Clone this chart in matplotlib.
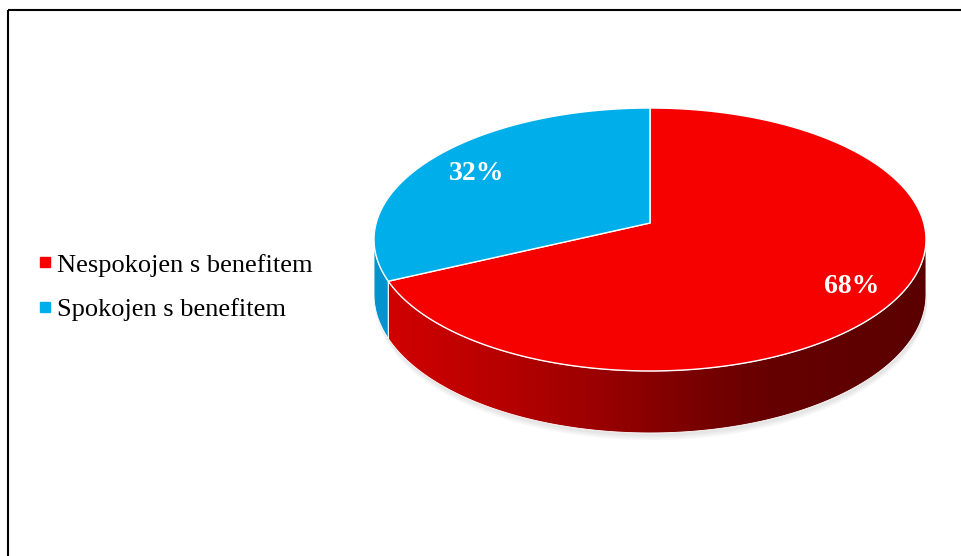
import numpy as np
import matplotlib
matplotlib.use('Agg')
import matplotlib.pyplot as plt
from matplotlib.patches import Polygon, Rectangle
from matplotlib.lines import Line2D
from matplotlib.colors import LinearSegmentedColormap

plt.rcParams['font.family'] = ['Liberation Serif', 'DejaVu Serif']

# podaci
kategorije = ['Nespokojen s benefitem', 'Spokojen s benefitem']
udio = [68, 32]
oznake = ['68%', '32%']
boje_vrh = ['#f70000', '#00aeea']

# geometrija 3D pite (pikseli slike), jednostavna perspektiva
cx, cy = 650.0, 223.0      # sredina gornje plohe
A, B = 273.8, 129.4        # poluosi
k = 0.1255                 # perspektiva (dalje = manje)
H = 54.2                   # debljina pite


def proj(phi, r=1.0, dub=0.0):
    u = r * np.cos(phi)
    v = r * np.sin(phi)
    w = 1 + k * v
    return cx + A * u / w, cy - B * v / w + H * dub / w


fig = plt.figure(figsize=(9.62, 5.56), dpi=100)
ax = fig.add_axes([0, 0, 1, 1])
ax.set_xlim(0, 962)
ax.set_ylim(556, 0)
ax.axis('off')

# okvir (samo lijevi i gornji rub su vidljivi)
ax.add_patch(Rectangle((8, 9.5), 2000, 2000, fill=False, ec='black', lw=1.5))

# kutevi kriski, od 12 sati u smjeru kazaljke
ukupno = sum(udio)
granice = [np.pi / 2]
for u in udio:
    granice.append(granice[-1] - 2 * np.pi * u / ukupno)

# sjena ispod pite
t = np.linspace(0, 2 * np.pi, 300)
for s in [7, 5, 3]:
    sx, sy = proj(t, 1.0, 1.0)
    ax.add_patch(Polygon(np.c_[sx + 1, sy + s], closed=True, fc='#808080',
                         ec='none', alpha=0.07, zorder=1))

# bocna strana: vidljivi prednji dio
kr = np.arcsin(k)
prednji = (-np.pi + kr, -kr)
xs0, xs1 = cx - A / np.sqrt(1 - k * k), cx + A / np.sqrt(1 - k * k)
gradijenti = [
    [(0.0, '#d40000'), (0.25, '#b40000'), (0.45, '#920000'),
     (0.6, '#760000'), (0.72, '#660000'), (1.0, '#5a0000')],
    [(0.0, '#0094cf'), (1.0, '#006a96')],
]
for i in range(len(udio)):
    lo, hi = sorted((granice[i], granice[i + 1]))
    for pomak in (0, -2 * np.pi, 2 * np.pi):
        l, h = max(lo + pomak, prednji[0]), min(hi + pomak, prednji[1])
        if h <= l:
            continue
        ph = np.linspace(h, l, 200)
        tx, ty = proj(ph, 1.0, 0.0)
        bx, by = proj(ph[::-1], 1.0, 1.0)
        poly = Polygon(np.c_[np.r_[tx, bx], np.r_[ty, by]], closed=True,
                       fc='none', ec='white', lw=0.6, zorder=3)
        ax.add_patch(poly)
        cmap = LinearSegmentedColormap.from_list('bok%d' % i, gradijenti[i])
        grad = np.linspace(0, 1, 256).reshape(1, -1)
        im = ax.imshow(grad, cmap=cmap, aspect='auto',
                       extent=(xs0, xs1, cy + B / (1 - k) + H + 10, cy - 20),
                       zorder=2, interpolation='bilinear')
        im.set_clip_path(poly)

# gornja ploha
for i in range(len(udio)):
    ph = np.linspace(granice[i], granice[i + 1], 300)
    px, py = proj(ph)
    ax.add_patch(Polygon(np.c_[np.r_[cx, px], np.r_[cy, py]], closed=True,
                         fc=boje_vrh[i], ec='white', lw=1.0, zorder=4,
                         joinstyle='round'))

# oznake podataka
for i in range(len(udio)):
    sred = (granice[i] + granice[i + 1]) / 2
    lx, ly = proj(sred, 0.81)
    ax.text(lx + 4, ly + 4, oznake[i], color='white', fontsize=20,
            fontweight='bold', ha='center', va='center', zorder=5)

# legenda
rucke = [Line2D([], [], marker='s', ls='', color=c, markersize=7.5)
         for c in boje_vrh]
fig.legend(rucke, kategorije, loc='center left',
           bbox_to_anchor=(27 / 962, 1 - 287 / 556), frameon=False,
           fontsize=19, handlelength=0.6, handletextpad=0.15,
           labelspacing=0.78, borderaxespad=0)

fig.savefig('out.png', dpi=100)
